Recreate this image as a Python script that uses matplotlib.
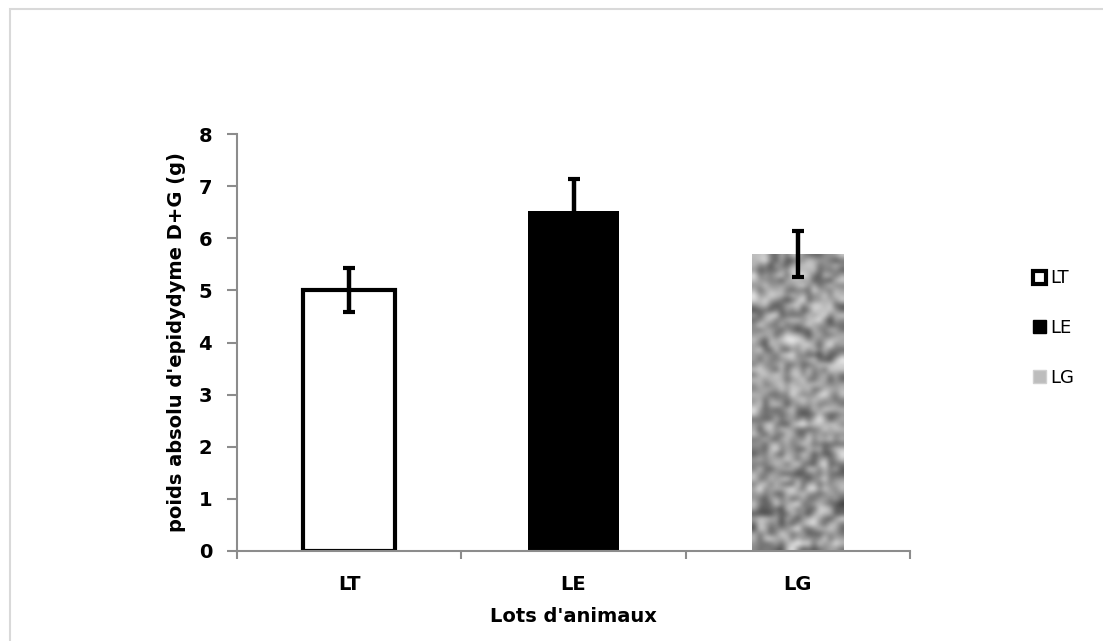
import numpy as np
import matplotlib
matplotlib.use("Agg")
import matplotlib.pyplot as plt
from matplotlib.patches import Rectangle, Patch

# ---- data -------------------------------------------------------------------
lots = ["LT", "LE", "LG"]
poids = [5.0, 6.53, 5.70]          # poids absolu d'epididyme D+G (g)
erreur = [0.42, 0.61, 0.44]        # ecart-type
y_ticks = [0, 1, 2, 3, 4, 5, 6, 7, 8]

plt.rcParams["font.family"] = ["DejaVu Sans"]
AXIS_GREY = "#8c8c8c"

fig = plt.figure(figsize=(11.03, 6.41), dpi=100)
# light grey frame around the whole chart area
fig.patches.append(Rectangle((10 / 1103, -0.02), 1.2, 1 - 9 / 641 + 0.02,
                             transform=fig.transFigure, fill=False,
                             edgecolor="#d9d9d9", lw=1.5))

ax = fig.add_axes([237 / 1103, 1 - 551 / 641, (910 - 237) / 1103, (551 - 134) / 641])
x = np.arange(len(lots))
w = 0.41

bars = ax.bar(x, poids, width=w, color=["white", "black", "none"],
              edgecolor=["black", "black", "none"], linewidth=[3.0, 0, 0], zorder=2)

# speckled grey texture for LG, clipped to the bar
rng = np.random.default_rng(7)
grain = rng.random((60, 17))
grain = 0.6 * grain + 0.2 * np.roll(grain, 1, 0) + 0.2 * np.roll(grain, 1, 1)
img = ax.imshow(grain, cmap="gray", vmin=-0.25, vmax=1.0, interpolation="bicubic",
                extent=[x[2] - w / 2, x[2] + w / 2, 0, poids[2]], aspect="auto", zorder=2)
img.set_clip_path(bars[2])

ax.errorbar(x, poids, yerr=erreur, fmt="none", ecolor="black", elinewidth=3.2,
            capsize=4.5, capthick=3.0, zorder=3)

ax.set_xlim(-0.5, 2.5)
ax.set_ylim(0, 8)
ax.set_yticks(y_ticks)
ax.set_yticklabels([str(t) for t in y_ticks], fontsize=14, fontweight="bold")
ax.set_xticks(x)
ax.set_xticklabels(lots, fontsize=14, fontweight="bold")
ax.set_xticks([-0.5, 0.5, 1.5, 2.5], minor=True)
ax.tick_params(axis="x", which="major", length=0, pad=17)
ax.tick_params(axis="x", which="minor", length=6, width=1.5, color=AXIS_GREY)
ax.tick_params(axis="y", length=7, width=1.5, color=AXIS_GREY, pad=11)

for side in ["top", "right"]:
    ax.spines[side].set_visible(False)
for side in ["left", "bottom"]:
    ax.spines[side].set_color(AXIS_GREY)
    ax.spines[side].set_linewidth(1.5)

ax.set_xlabel("Lots d'animaux", fontsize=14, fontweight="bold", labelpad=10)
ax.set_ylabel("poids absolu d'epidydyme D+G (g)", fontsize=14, fontweight="bold",
              labelpad=9)

handles = [Patch(facecolor="white", edgecolor="black", linewidth=3),
           Patch(facecolor="black", edgecolor="black"),
           Patch(facecolor="#bdbdbd", edgecolor="#d0d0d0")]
fig.legend(handles, lots, loc="center left", bbox_to_anchor=(1033 / 1103, 1 - 328 / 641),
           frameon=False, fontsize=13, handlelength=0.72, handleheight=0.72,
           handletextpad=0.25, labelspacing=1.75, borderaxespad=0, borderpad=0)

fig.savefig("out.png", dpi=100, facecolor="white")
